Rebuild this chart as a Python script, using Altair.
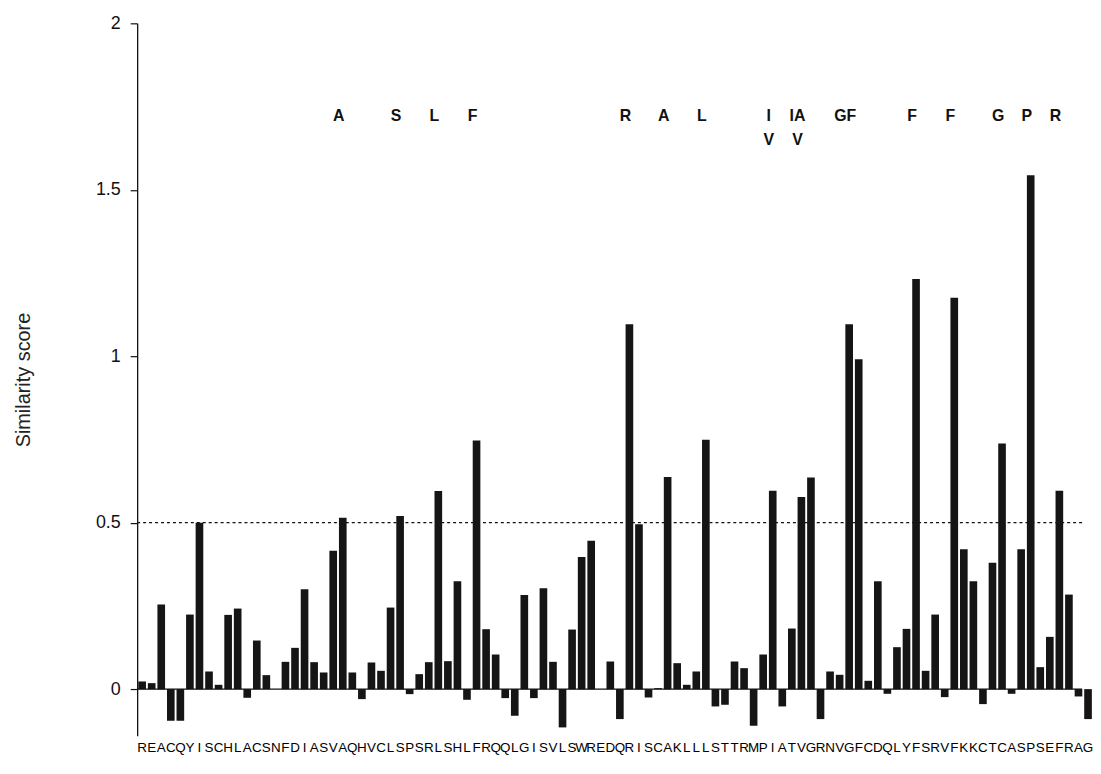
import altair as alt
import pandas as pd

# ---- data ----
SEQUENCE = "REACQYISCHLACSNFDIASVAQHVCLSPSRLSHLFRQQLGISVLSWREDQRISCAKLLLSTTRMPIATVGRNVGFCDQLYFSRVFKKCTCASPSEFRAG"
SCORES = [
    0.023, 0.018, 0.254, -0.095, -0.095, 0.224, 0.500, 0.053, 0.013, 0.223,
    0.242, -0.026, 0.146, 0.042, 0.000, 0.082, 0.124, 0.300, 0.081, 0.050,
    0.416, 0.515, 0.050, -0.030, 0.080, 0.055, 0.245, 0.520, -0.015, 0.045,
    0.081, 0.595, 0.084, 0.324, -0.032, 0.747, 0.180, 0.104, -0.027, -0.080,
    0.283, -0.027, 0.303, 0.082, -0.115, 0.179, 0.397, 0.446, 0.000, 0.083,
    -0.090, 1.096, 0.495, -0.025, 0.003, 0.637, 0.078, 0.013, 0.053, 0.749,
    -0.052, -0.047, 0.083, 0.063, -0.110, 0.104, 0.596, -0.052, 0.182, 0.577,
    0.636, -0.090, 0.053, 0.043, 1.096, 0.991, 0.025, 0.324, -0.014, 0.126,
    0.181, 1.232, 0.055, 0.224, -0.024, 1.176, 0.420, 0.324, -0.045, 0.380,
    0.738, -0.014, 0.420, 1.544, 0.066, 0.157, 0.596, 0.284, -0.022, -0.090,
]
THRESHOLD = [0.5]
BASELINE = [0.0]
Y_TICKS = [0, 0.5, 1, 1.5, 2]

# annotations above bars: residue index, text, y level
ANNOT_IDX = [21, 27, 31, 35, 51, 55, 59, 66, 69, 74, 81, 85, 90, 93, 96, 66, 69]
ANNOT_TXT = ["A", "S", "L", "F", "R", "A", "L", "I", "IA", "GF", "F", "F", "G", "P", "R", "V", "V"]
ANNOT_Y = [1.723] * 15 + [1.65, 1.65]

residues = list(SEQUENCE)
n = len(residues)
bars = pd.DataFrame({"i": list(range(n)), "res": residues, "score": SCORES})
annot = pd.DataFrame({"i": ANNOT_IDX, "txt": ANNOT_TXT, "y": ANNOT_Y})

FONT = "Liberation Sans"
x_scale = alt.Scale(domain=list(range(n)), range=[0, 962], paddingInner=0.2, paddingOuter=0.12)
x_enc = alt.X(
    "i:O",
    scale=x_scale,
    axis=alt.Axis(
        title=None,
        labelExpr="substring('" + SEQUENCE + "', datum.value, datum.value + 1)",
        labelAngle=0,
        ticks=False,
        domain=False,
        labelOverlap=False,
        labelPadding=5,
        labelFont="Liberation Sans Narrow, Liberation Sans, sans-serif",
        labelFontSize=13.5,
        labelColor="#000",
    ),
)
y_scale = alt.Scale(domain=[-0.14, 2], nice=False, zero=False)
y_enc = alt.Y(
    "score:Q",
    scale=y_scale,
    axis=alt.Axis(
        title="Similarity score",
        values=Y_TICKS,
        format="~g",
        grid=False,
        tickSize=7,
        tickColor="#111",
        tickWidth=1.2,
        domainColor="#111",
        domainWidth=1.3,
        labelPadding=10,
        labelFont=FONT,
        labelFontSize=18,
        labelColor="#111",
        titleFont=FONT,
        titleFontSize=20,
        titleFontWeight="normal",
        titleColor="#222",
        titlePadding=62,
    ),
)

bar_layer = alt.Chart(bars).mark_bar(color="#151515").encode(x=x_enc, y=y_enc)

base_rule = alt.Chart(pd.DataFrame({"v": BASELINE})).mark_rule(
    color="#111", strokeWidth=1.4
).encode(y=alt.Y("v:Q", scale=y_scale))

thr_rule = alt.Chart(pd.DataFrame({"v": THRESHOLD})).mark_rule(
    color="#111", strokeWidth=1.3, strokeDash=[3, 3]
).encode(y=alt.Y("v:Q", scale=y_scale))

text_layer = alt.Chart(annot).mark_text(
    font=FONT, fontSize=16, fontWeight="bold", color="#111", dx=-4
).encode(
    x=alt.X("i:O", scale=x_scale),
    y=alt.Y("y:Q", scale=y_scale),
    text="txt:N",
)

chart = (
    alt.layer(thr_rule, bar_layer, base_rule, text_layer)
    .properties(
        width=951,
        height=717,
        padding={"left": 5, "top": 4, "right": 0, "bottom": 4},
        background="white",
    )
    .configure_view(stroke=None)
)

chart.save("out.html", embed_options={"renderer": "svg", "actions": False})
